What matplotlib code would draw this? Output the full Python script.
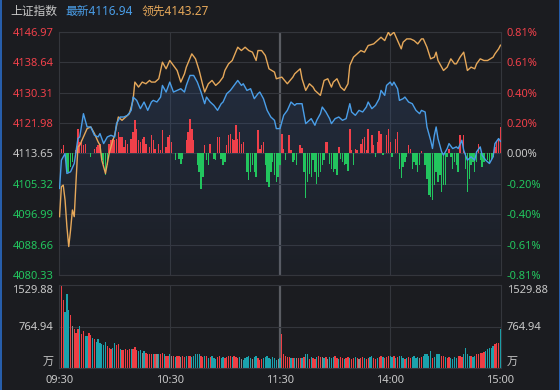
import numpy as np
import matplotlib
matplotlib.use('Agg')
import matplotlib.pyplot as plt
from matplotlib.lines import Line2D

plt.rcParams['font.family'] = ['Noto Sans', 'Noto Sans CJK SC', 'DejaVu Sans']

# ---------------- data ----------------
title_name = '上证指数'
last_price = 4116.94
lead_last = 4143.27
prev_close = 4113.65

price_ticks = [4080.33, 4088.66, 4096.99, 4105.32, 4113.65, 4121.98, 4130.31, 4138.64, 4146.97]
pct_labels = ['-0.81%', '-0.61%', '-0.40%', '-0.20%', '0.00%', '0.20%', '0.40%', '0.61%', '0.81%']
time_ticks = [0, 60, 120, 180, 240]
time_labels = ['09:30', '10:30', '11:30', '14:00', '15:00']
vol_ticks = [0, 764.94, 1529.88]
vol_labels = ['万', '764.94', '1529.88']

price_min = [0, 1, 3, 4, 6, 8, 10, 11, 13, 15, 17, 19, 21, 22, 24, 26, 28, 30, 31, 33,
             35, 37, 39, 40, 42, 44, 46, 48, 50, 51, 53, 55, 56, 58, 60, 62, 64, 66, 68, 69,
             71, 73, 75, 77, 79, 80, 82, 84, 86, 88, 89, 91, 93, 95, 97, 99, 100, 102, 104, 106,
             108, 109, 111, 113, 115, 117, 118, 120, 122, 124, 126, 128, 129, 132, 134, 136, 137, 139, 140, 142,
             143, 145, 147, 148, 150, 152, 154, 156, 158, 159, 161, 163, 165, 167, 168, 170, 172, 174, 175, 177,
             178, 180, 181, 182, 184, 185, 187, 188, 190, 192, 194, 196, 197, 199, 200, 202, 203, 204, 205, 206,
             208, 209, 211, 212, 214, 216, 217, 219, 220, 222, 224, 226, 227, 229, 230, 232, 234, 236, 237, 239,
             240]
price = [4104.04, 4111.78, 4113.60, 4108.14, 4108.60, 4110.87, 4117.70, 4118.15, 4124.52, 4120.88,
         4120.88, 4118.60, 4118.15, 4119.06, 4116.33, 4118.15, 4118.60, 4118.15, 4121.79, 4123.61,
         4123.61, 4124.07, 4125.43, 4129.07, 4128.16, 4125.89, 4127.71, 4125.43, 4127.71, 4128.16,
         4127.71, 4129.07, 4132.26, 4130.44, 4133.17, 4130.44, 4130.89, 4131.35, 4130.44, 4132.26,
         4134.99, 4134.99, 4133.17, 4130.44, 4127.25, 4129.07, 4127.71, 4126.80, 4125.43, 4127.25,
         4127.71, 4129.98, 4130.89, 4132.26, 4133.62, 4132.26, 4132.71, 4130.89, 4131.35, 4128.62,
         4129.98, 4130.44, 4128.62, 4125.43, 4123.61, 4122.70, 4120.43, 4120.43, 4124.07, 4125.43,
         4127.71, 4126.80, 4127.25, 4127.25, 4121.79, 4122.70, 4123.16, 4121.35, 4122.70, 4124.52,
         4126.34, 4124.98, 4123.16, 4121.79, 4123.16, 4123.61, 4122.70, 4123.16, 4127.25, 4124.98,
         4124.07, 4125.43, 4124.98, 4126.34, 4127.71, 4125.89, 4126.80, 4128.62, 4130.89, 4129.53,
         4132.26, 4133.17, 4132.26, 4133.17, 4131.35, 4128.16, 4128.62, 4129.07, 4127.71, 4127.25,
         4125.43, 4124.52, 4125.43, 4124.98, 4120.88, 4117.24, 4114.97, 4118.60, 4120.88, 4117.70,
         4114.06, 4113.15, 4114.97, 4116.33, 4114.97, 4115.42, 4114.97, 4117.24, 4114.51, 4111.78,
         4112.69, 4111.78, 4114.06, 4115.42, 4113.15, 4111.78, 4110.87, 4112.69, 4116.33, 4117.70,
         4116.94]

lead_min = [0, 1, 2, 3, 4, 5, 6, 7, 8, 9, 10, 11, 13, 15, 17, 19, 21, 22, 23, 25,
            27, 29, 30, 32, 34, 36, 38, 40, 41, 43, 45, 47, 49, 50, 52, 54, 56, 58, 60, 62,
            64, 66, 68, 69, 72, 74, 76, 78, 79, 81, 83, 85, 87, 89, 90, 92, 94, 97, 99, 101,
            103, 105, 107, 108, 110, 112, 114, 117, 118, 121, 124, 127, 128, 131, 132, 134, 136, 138, 139, 142,
            144, 146, 148, 149, 151, 153, 155, 157, 158, 160, 162, 164, 166, 168, 171, 173, 175, 177, 179, 180,
            182, 184, 186, 187, 189, 191, 193, 195, 197, 198, 200, 202, 204, 205, 206, 209, 211, 213, 215, 216,
            218, 220, 222, 224, 226, 227, 229, 231, 233, 236, 237, 239, 240]
lead = [4096.31, 4104.50, 4104.96, 4100.86, 4093.58, 4088.12, 4092.67, 4098.13, 4096.31, 4106.32,
        4115.42, 4115.88, 4118.15, 4120.43, 4120.88, 4119.06, 4116.79, 4115.88, 4111.78, 4108.14,
        4113.60, 4117.24, 4118.60, 4123.61, 4122.70, 4123.61, 4124.52, 4128.16, 4133.17, 4131.80,
        4133.17, 4132.71, 4133.62, 4133.17, 4133.17, 4134.08, 4138.63, 4136.81, 4139.08, 4137.72,
        4136.35, 4133.17, 4135.44, 4137.26, 4140.90, 4139.54, 4136.35, 4132.26, 4130.44, 4132.71,
        4133.62, 4132.26, 4133.17, 4134.53, 4136.35, 4138.17, 4139.08, 4142.72, 4141.81, 4142.72,
        4141.81, 4141.36, 4139.08, 4141.81, 4141.81, 4140.45, 4136.81, 4135.90, 4134.08, 4134.53,
        4132.71, 4134.53, 4135.44, 4136.81, 4134.08, 4130.89, 4132.71, 4131.80, 4130.89, 4129.53,
        4133.62, 4134.08, 4131.80, 4133.17, 4134.08, 4131.80, 4130.89, 4132.71, 4137.72, 4139.99,
        4140.90, 4141.81, 4141.36, 4143.18, 4143.63, 4144.54, 4145.45, 4144.54, 4146.82, 4145.91,
        4146.82, 4144.54, 4142.27, 4144.09, 4145.00, 4145.00, 4144.54, 4143.63, 4145.00, 4145.00,
        4142.72, 4139.54, 4139.99, 4141.36, 4139.08, 4136.35, 4137.26, 4139.54, 4138.17, 4138.17,
        4139.99, 4141.36, 4136.35, 4137.26, 4136.81, 4138.17, 4139.54, 4139.08, 4139.08, 4139.99,
        4140.90, 4142.27, 4143.27]

force_min = [1, 2, 4, 5, 6, 7, 9, 10, 11, 12, 13, 14, 17, 19, 20, 21, 22, 23, 24, 25,
             26, 27, 28, 29, 30, 31, 32, 33, 34, 35, 36, 37, 39, 40, 41, 42, 43, 44, 45, 46,
             47, 49, 50, 51, 52, 54, 55, 56, 58, 59, 60, 61, 63, 65, 66, 67, 69, 70, 71, 72,
             73, 75, 76, 77, 78, 79, 80, 81, 82, 84, 85, 86, 87, 88, 89, 90, 91, 92, 93, 94,
             95, 96, 97, 98, 99, 100, 102, 103, 104, 105, 106, 107, 108, 109, 110, 111, 112, 113, 114, 115,
             116, 117, 118, 119, 120, 121, 122, 123, 125, 126, 127, 128, 129, 131, 132, 133, 134, 135, 136, 137,
             138, 139, 140, 141, 142, 143, 144, 145, 146, 147, 148, 149, 150, 151, 152, 153, 154, 155, 156, 157,
             158, 159, 160, 161, 162, 164, 165, 166, 167, 168, 170, 171, 172, 173, 174, 175, 176, 178, 179, 180,
             181, 183, 184, 185, 186, 187, 188, 189, 190, 191, 192, 193, 194, 195, 196, 197, 199, 200, 201, 202,
             203, 204, 205, 206, 207, 208, 209, 210, 211, 212, 213, 214, 215, 216, 217, 218, 220, 221, 222, 223,
             224, 225, 226, 227, 228, 229, 230, 231, 233, 234, 235, 236, 237, 238, 239, 240]
force = [4, 8, -19, -19, -14, -9, 3, 24, 11, 13, 8, 9, -4, 4, 6, 8, 9, -7, -11, -22,
         -12, 9, 13, 14, 13, 14, 21, 16, 16, 6, 13, 9, 14, 21, 33, 24, 13, 11, 14, 16,
         9, 6, 18, 13, 4, 9, 3, 23, 6, 16, 18, 11, -7, -6, -11, -6, 13, 21, 34, 24,
         13, -12, -19, -36, -24, 8, -7, -12, 9, -6, -7, 16, 16, -6, -12, -9, 8, 18, 19, 14,
         13, 28, 14, 21, 9, 11, -19, -27, -19, -12, -19, -24, 23, 4, 8, 11, -12, -29, -34, -19,
         -9, -22, -29, -24, -12, 19, 4, -7, 18, 3, -9, -7, -12, 8, 5, -19, -45, -29, -21, -24,
         -7, -19, -31, -24, -19, -12, -7, 11, 11, -11, -16, -19, -16, -22, 6, -6, -9, -12, -11, -18,
         24, 3, -12, 4, 3, 9, 14, 16, 3, 24, 18, 8, -4, 11, 22, 19, -2, 18, 24, 11,
         -4, 14, 21, -16, -25, -14, -9, -4, 8, 4, -16, -9, -12, -19, -12, 2, -12, -26, -42, -44,
         -47, -32, -19, -29, -22, -39, -32, -32, -4, 4, -4, -16, -9, -12, -19, 18, 18, -16, -39, -26,
         -12, -9, -19, -9, 9, -7, -14, -9, -7, -11, -7, -4, 6, 11, 14, 26]

volume = [591, 1530, 1262, 1026, 1368, 1076, 976, 777, 715, 653,
          715, 777, 622, 684, 591, 591, 653, 603, 560, 529,
          479, 529, 466, 435, 417, 479, 404, 373, 342, 373,
          454, 417, 435, 342, 330, 330, 354, 330, 342, 342,
          342, 392, 330, 311, 330, 280, 317, 280, 249, 267,
          249, 249, 267, 249, 249, 249, 280, 249, 218, 230,
          249, 230, 230, 205, 218, 230, 205, 218, 205, 230,
          218, 230, 205, 218, 249, 267, 249, 218, 205, 230,
          218, 187, 205, 218, 187, 168, 205, 218, 187, 205,
          187, 205, 218, 230, 205, 218, 205, 187, 205, 168,
          155, 187, 205, 218, 187, 168, 205, 218, 187, 155,
          168, 187, 205, 218, 187, 168, 205, 187, 155, 168,
          187, 622, 267, 218, 205, 205, 187, 187, 187, 187,
          187, 187, 187, 205, 249, 267, 168, 205, 187, 168,
          205, 230, 205, 205, 187, 205, 168, 205, 187, 205,
          218, 187, 168, 205, 187, 168, 187, 205, 187, 168,
          187, 205, 187, 168, 187, 205, 187, 168, 187, 205,
          218, 187, 168, 187, 205, 218, 205, 187, 205, 218,
          230, 205, 218, 187, 205, 230, 218, 187, 168, 187,
          205, 187, 205, 218, 187, 205, 187, 205, 218, 249,
          267, 230, 311, 187, 205, 249, 267, 267, 230, 218,
          205, 187, 205, 187, 168, 205, 187, 218, 230, 205,
          267, 361, 249, 218, 230, 205, 218, 267, 267, 280,
          280, 292, 317, 342, 373, 373, 404, 435, 454, 466,
          728]
# tick direction of each minute: w = auction, r = up, g = down, n = flat
vol_dir = ("wrrgggrnrr" "rgrrggrrgr" "ggggggrrrg" "grrgrrrrrg" "rrrggngrrr"
           "rgrngrrgrr" "gnrgrrnrrg" "rrgggggrrg" "rgrgggrrgg" "rrrrgrrrgn"
           "gggggnggrr" "rggggggggn" "grrrrrgrgn" "rrgrggrgrr" "grrngrnggg"
           "rrgrrgrrgr" "rgrnrrgrrg" "grrgrrgrrr" "ggrgrgggrg" "rrggggnrgg"
           "gggrggggrr" "grrggggrrr" "ggggrggrrr" "rrgggggrrr" "g")

# ---------------- style ----------------
BG = '#1b1c20'
GRID = '#34363c'
SEP = '#5a5c62'
TXT = '#c8c8c8'
RED = '#f0404a'
GREEN = '#22c55e'
BLUE = '#4a9ee8'
ORANGE = '#e6a85a'
VRED = '#ee3e44'
VTEAL = '#1ba3ad'
VGREY = '#8a8a8a'
FORCE_SCALE = 0.274   # price units per force unit

W, H = 560, 390
fig = plt.figure(figsize=(W / 100, H / 100), dpi=100, facecolor=BG)
x0, x1 = 59, 501
ax = fig.add_axes([x0 / W, 1 - 275 / H, (x1 - x0) / W, (275 - 31.7) / H])
axv = fig.add_axes([x0 / W, 1 - 368 / H, (x1 - x0) / W, (368 - 285) / H])

pmin, pmax = price_ticks[0], price_ticks[-1]
xlim = (-0.3, 240.3)

for a in (ax, axv):
    a.set_facecolor(BG)
    a.set_xlim(*xlim)
    for s in a.spines.values():
        s.set_color(GRID)
        s.set_linewidth(0.8)
    a.tick_params(length=0)
    for t in (60, 180):
        a.axvline(t, color=GRID, lw=0.8, zorder=0.5)
    a.axvline(120, color=SEP, lw=1.6, zorder=0.5)

# main price panel
ax.set_ylim(pmin, pmax)
for p in price_ticks:
    ax.axhline(p, color=GRID, lw=0.8, zorder=0.5)

# gradient fill under price line
pm = np.array(price_min, dtype=float)
pv = np.array(price, dtype=float)
poly = ax.fill_between(pm, pv, pmin, color='none', lw=0)
grad = np.zeros((256, 1, 4))
grad[:, 0, 0] = 0.22
grad[:, 0, 1] = 0.36
grad[:, 0, 2] = 0.58
grad[:, 0, 3] = np.linspace(0.05, 0.26, 256)
im = ax.imshow(grad, extent=[xlim[0], xlim[1], pmin, pv.max()], origin='lower',
               aspect='auto', zorder=1, interpolation='bilinear')
im.set_clip_path(poly.get_paths()[0], transform=ax.transData)

# force bars
fm = np.array(force_min)
fv = np.array(force, dtype=float)
fcol = [RED if v > 0 else GREEN for v in fv]
ax.bar(fm, fv * FORCE_SCALE, bottom=prev_close, width=0.78, color=fcol, lw=0, zorder=2)

ax.plot(lead_min, lead, color=ORANGE, lw=1.0, zorder=3)
ax.plot(price_min, price, color=BLUE, lw=1.0, zorder=4)

ax.set_xticks([])
ax.set_yticks(price_ticks)
ax.set_yticklabels([f'{p:.2f}' for p in price_ticks])
ax.tick_params(axis='y', labelsize=8, pad=4)
for lab, p in zip(ax.get_yticklabels(), price_ticks):
    lab.set_color(RED if p > prev_close + 0.01 else (GREEN if p < prev_close - 0.01 else TXT))

axr = ax.twinx()
axr.set_ylim(pmin, pmax)
axr.set_yticks(price_ticks)
axr.set_yticklabels(pct_labels)
axr.tick_params(length=0, labelsize=8, pad=4)
for s in axr.spines.values():
    s.set_visible(False)
for lab, p in zip(axr.get_yticklabels(), price_ticks):
    lab.set_color(RED if p > prev_close + 0.01 else (GREEN if p < prev_close - 0.01 else TXT))

# volume panel
axv.set_ylim(0, vol_ticks[-1])
axv.axhline(vol_ticks[1], color=GRID, lw=0.8, zorder=0.5)
cmap = {'w': '#e8e8e8', 'r': VRED, 'g': VTEAL, 'n': VGREY}
vcol = [cmap[c] for c in vol_dir]
axv.bar(np.arange(len(volume)), volume, width=0.7, color=vcol, lw=0, zorder=2)
axv.set_xticks(time_ticks)
axv.set_xticklabels(time_labels)
axv.tick_params(axis='x', labelsize=8, pad=5, colors=TXT)
axv.set_yticks(vol_ticks)
axv.set_yticklabels(vol_labels)
axv.tick_params(axis='y', labelsize=8, pad=4, colors=TXT)
axvr = axv.twinx()
axvr.set_ylim(0, vol_ticks[-1])
axvr.set_yticks(vol_ticks)
axvr.set_yticklabels(vol_labels)
axvr.tick_params(length=0, labelsize=8, pad=4, colors=TXT)
for s in axvr.spines.values():
    s.set_visible(False)
for a in (axv, axvr):
    labs = a.get_yticklabels()
    labs[0].set_va('bottom')
    labs[-1].set_va('top')

# header
fig.text(10 / W, 1 - 11 / H, title_name, color=TXT, fontsize=8.5, va='center')
fig.text(65 / W, 1 - 11 / H, f'最新{last_price:.2f}', color=BLUE, fontsize=8.5, va='center')
fig.text(142 / W, 1 - 11 / H, f'领先{lead_last:.2f}', color=ORANGE, fontsize=8.5, va='center')

# window frame
fig.add_artist(Line2D([0.5 / W, 0.5 / W], [0, 1], color='#2a6cc8', lw=1.2))
fig.add_artist(Line2D([1 - 0.5 / W, 1 - 0.5 / W], [0, 1], color='#2a6cc8', lw=1.2))

fig.savefig('out.png', dpi=100, facecolor=BG)
